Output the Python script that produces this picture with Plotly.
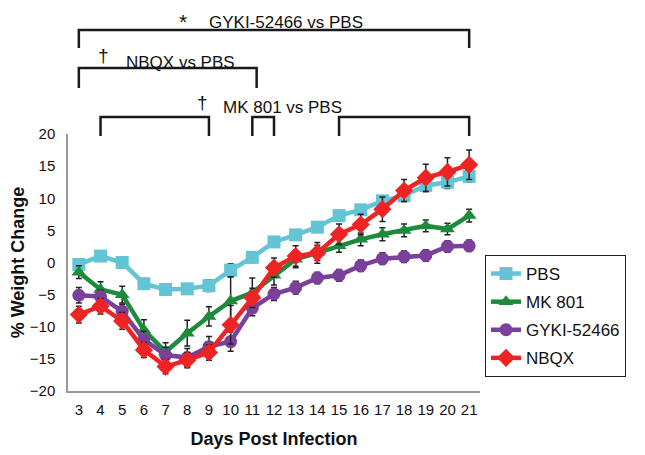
import plotly.graph_objects as go

days = list(range(3, 22))

pbs = [-0.3, 1.0, 0.0, -3.3, -4.2, -4.1, -3.6, -1.2, 0.8, 3.2, 4.3, 5.5, 7.3, 8.2, 9.6, 10.4, 12.0, 12.5, 13.4]
mk801 = [-1.5, -4.2, -5.0, -10.5, -13.9, -11.0, -8.4, -6.0, -4.7, -2.0, 0.5, 1.5, 2.6, 3.6, 4.4, 5.0, 5.7, 5.2, 7.3]
gyki = [-5.1, -5.3, -7.6, -12.0, -14.4, -14.8, -13.1, -12.3, -7.1, -4.9, -3.9, -2.4, -2.0, -0.5, 0.6, 0.9, 1.1, 2.5, 2.6]
nbqx = [-8.1, -6.8, -9.1, -13.6, -16.2, -15.2, -14.0, -9.7, -5.5, -0.8, 1.0, 1.5, 4.4, 5.9, 8.3, 11.2, 13.2, 14.1, 15.2]

pbs_err = [0.6, 0.6, 0.6, 0.7, 0.7, 0.8, 0.9, 1.0, 0.8, 0.8, 0.7, 0.7, 0.8, 0.8, 0.8, 0.9, 1.0, 1.0, 0.9]
mk801_err = [1.0, 1.2, 1.3, 1.6, 1.4, 2.0, 1.5, 3.8, 2.3, 1.5, 1.3, 1.2, 1.0, 1.0, 1.0, 1.0, 0.9, 0.9, 1.0]
gyki_err = [1.2, 1.0, 1.1, 1.3, 1.2, 1.4, 1.6, 1.5, 1.2, 1.0, 1.0, 0.9, 0.9, 0.9, 0.9, 0.9, 0.9, 0.9, 0.9]
nbqx_err = [1.3, 1.2, 1.3, 1.2, 1.1, 1.2, 1.2, 3.0, 1.5, 1.5, 1.6, 1.6, 1.6, 1.6, 1.9, 1.7, 2.1, 2.2, 2.3]

series = [
    ("PBS", pbs, pbs_err, "#63C4D6", "square"),
    ("MK 801", mk801, mk801_err, "#1E8A3C", "triangle-up"),
    ("GYKI-52466", gyki, gyki_err, "#7B3F9C", "circle"),
    ("NBQX", nbqx, nbqx_err, "#EE2424", "diamond"),
]

FONT = "Liberation Sans, Arial, sans-serif"

fig = go.Figure()
for name, vals, err, color, sym in series:
    fig.add_trace(go.Scatter(
        x=days, y=vals, name=name, mode="lines+markers", legendgroup=name,
        line=dict(color=color, width=4.5),
        marker=dict(symbol=sym, size=13 if sym != "diamond" else 14, color=color),
        error_y=dict(type="data", array=err, visible=True, color="#222222", thickness=1.5, width=3),
    ))

# page offset (body margin of the html page)
OFF = 8
FW, FH = 645 - OFF, 455 - OFF
# plot area in page pixels
L, R, T, B = 68, 480, 134, 391
W, H = R - L, B - T

def py(p):
    return (B - p) / H

def px(p):
    return (p - L) / W

shapes = []
def bracket(d0, d1, ytop, ybot):
    shapes.append(dict(
        type="path", xref="x", yref="paper",
        path=f"M {d0},{py(ybot)} L {d0},{py(ytop)} L {d1},{py(ytop)} L {d1},{py(ybot)}",
        line=dict(color="#1a1a1a", width=2.5),
    ))

bracket(3, 21, 30, 48)
bracket(3, 11.2, 68, 88)
bracket(4, 9, 117, 136)
bracket(11, 12, 117, 136)
bracket(15, 21, 117, 136)

annotations = []
def text(x, y, s, size=17):
    annotations.append(dict(
        xref="paper", yref="paper", x=px(x), y=py(y), text=s, showarrow=False,
        font=dict(family=FONT, size=size, color="#111111"), xanchor="center", yanchor="middle",
    ))

text(183, 21, "*", 21)
text(285.5, 22, "GYKI-52466 vs PBS")
text(103, 56, "†", 19)
text(180.5, 62, "NBQX vs PBS")
text(202, 102, "†", 19)
text(282.5, 108, "MK 801 vs PBS")

fig.update_layout(
    width=FW, height=FH,
    margin=dict(l=L - OFF, r=FW - (R - OFF), t=T - OFF, b=FH - (B - OFF), autoexpand=False),
    paper_bgcolor="white", plot_bgcolor="white",
    font=dict(family=FONT, size=14, color="#111111"),
    showlegend=True,
    legend=dict(
        x=px(485), y=py(255), xanchor="left", yanchor="top",
        bordercolor="#222222", borderwidth=1,
        font=dict(family=FONT, size=17, color="#111111"),
        bgcolor="white", tracegroupgap=3,
    ),
    shapes=shapes,
    annotations=annotations,
    xaxis=dict(
        range=[2.5, 21.5], tickmode="array", tickvals=days, ticktext=[str(d) for d in days],
        showgrid=False, zeroline=False, showline=True, linecolor="#999999", linewidth=1.5,
        ticks="", tickfont=dict(size=15, family=FONT, color="#111111"), automargin=False,
        ticklabelstandoff=4,
        title=dict(text="<b>Days Post Infection</b>", font=dict(size=18, family=FONT, color="#111111"), standoff=16),
    ),
    yaxis=dict(
        range=[-20, 20], dtick=5, showgrid=False, zeroline=False, showline=True,
        linecolor="#999999", linewidth=1.5, ticks="", automargin=False,
        ticklabelstandoff=8,
        tickfont=dict(size=15, family=FONT, color="#111111"),
        title=dict(text="<b>% Weight Change</b>", font=dict(size=18, family=FONT, color="#111111"), standoff=0),
    ),
)

fig.write_html("out.html")
